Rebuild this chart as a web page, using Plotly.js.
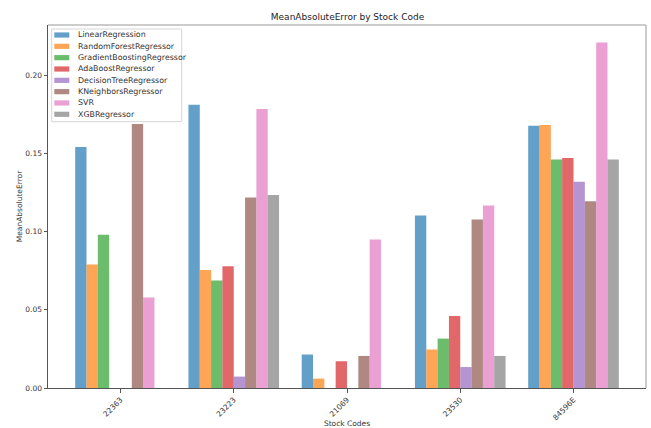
<!DOCTYPE html>
<html>
<head>
<meta charset="utf-8">
<script src="https://cdn.plot.ly/plotly-3.0.1.min.js"></script>
<style>html,body{margin:0;padding:0;background:#fff;}#chart{width:651px;height:428px;}</style>
</head>
<body>
<div id="chart"></div>
<script>
const stockCodes = ["22363", "23223", "21069", "23530", "84596E"];
const modelNames = ["LinearRegression", "RandomForestRegressor", "GradientBoostingRegressor", "AdaBoostRegressor", "DecisionTreeRegressor", "KNeighborsRegressor", "SVR", "XGBRegressor"];
const linearRegression = [0.154, 0.181, 0.0214, 0.1103, 0.1676];
const randomForest = [0.079, 0.0755, 0.006, 0.0246, 0.1682];
const gradientBoosting = [0.098, 0.0687, null, 0.0316, 0.1461];
const adaBoost = [null, 0.0778, 0.0171, 0.046, 0.1471];
const decisionTree = [null, 0.0073, null, 0.0134, 0.1318];
const kNeighbors = [0.1687, 0.1218, 0.0205, 0.1077, 0.1194];
const svr = [0.0578, 0.1783, 0.0949, 0.1167, 0.2209];
const xgb = [null, 0.1233, null, 0.0205, 0.1461];
const yTicks = [0, 0.05, 0.10, 0.15, 0.20];

const seriesValues = [linearRegression, randomForest, gradientBoosting, adaBoost, decisionTree, kNeighbors, svr, xgb];
const colors = ["#1f77b4", "#ff7f0e", "#2ca02c", "#d62728", "#9467bd", "#8c564b", "#e377c2", "#7f7f7f"];

const W = 651, H = 428;
const L = 48, R = 646, T = 25, B = 388;
const px = v => (v - L) / (R - L);
const py = v => (B - v) / (B - T);

const traces = seriesValues.map((vals, i) => ({
  type: "bar",
  name: modelNames[i],
  x: stockCodes,
  y: vals,
  marker: {color: colors[i], opacity: 0.7, line: {width: 0}},
  hoverinfo: "x+y+name"
}));

const font = "DejaVu Sans, Liberation Sans, sans-serif";
const shapes = [
  {type: "line", xref: "paper", yref: "paper", x0: 0, x1: 1, y0: 1, y1: 1, line: {color: "#999", width: 1}},
  {type: "line", xref: "paper", yref: "paper", x0: 1, x1: 1, y0: 0, y1: 1, line: {color: "#999", width: 1}},
  {type: "rect", xref: "paper", yref: "paper", x0: px(51.7), x1: px(181.7), y0: py(121.7), y1: py(29),
   line: {color: "#d6d6d6", width: 1}, fillcolor: "rgba(255,255,255,0.85)"}
];
const annotations = [];
modelNames.forEach((name, i) => {
  const cy = 35 + i * 11.33;
  shapes.push({type: "rect", xref: "paper", yref: "paper", x0: px(54.3), x1: px(69.3), y0: py(cy + 2.6), y1: py(cy - 2.6),
    line: {width: 0}, fillcolor: colors[i], opacity: 0.7});
  annotations.push({xref: "paper", yref: "paper", x: px(75.5), y: py(cy), xanchor: "left", yanchor: "middle",
    text: name, showarrow: false, font: {family: font, size: 7.9, color: "#333"}});
});

const layout = {
  width: W, height: H,
  margin: {l: L, r: W - R, t: T, b: H - B, pad: 0},
  paper_bgcolor: "#fff", plot_bgcolor: "#fff",
  barmode: "group", bargap: 0.2, bargroupgap: 0,
  showlegend: false,
  font: {family: font, size: 7.5, color: "#333"},
  title: {text: "MeanAbsoluteError by Stock Code", font: {family: font, size: 9, color: "#222"},
    x: px(347.5), xref: "paper", xanchor: "center", y: 1 - 17 / H, yref: "container", yanchor: "middle"},
  xaxis: {
    type: "category", range: [-0.64, 4.64], showgrid: false, zeroline: false,
    showline: true, linecolor: "#555", linewidth: 1,
    ticks: "outside", ticklen: 3.5, tickcolor: "#555", tickangle: -45,
    tickfont: {family: font, size: 7.5, color: "#333"},
    title: {text: "Stock Codes", font: {family: font, size: 7.5, color: "#333"}, standoff: 3}
  },
  yaxis: {
    range: [0, 0.23205], showgrid: false, zeroline: false,
    showline: true, linecolor: "#555", linewidth: 1,
    ticks: "outside", ticklen: 3.5, tickcolor: "#555",
    tickvals: yTicks, tickformat: ".2f",
    tickfont: {family: font, size: 7.5, color: "#333"},
    title: {text: "MeanAbsoluteError", font: {family: font, size: 7.5, color: "#333"}, standoff: 1}
  },
  shapes: shapes,
  annotations: annotations
};

Plotly.newPlot("chart", traces, layout, {displayModeBar: false, staticPlot: true});
</script>
</body>
</html>
